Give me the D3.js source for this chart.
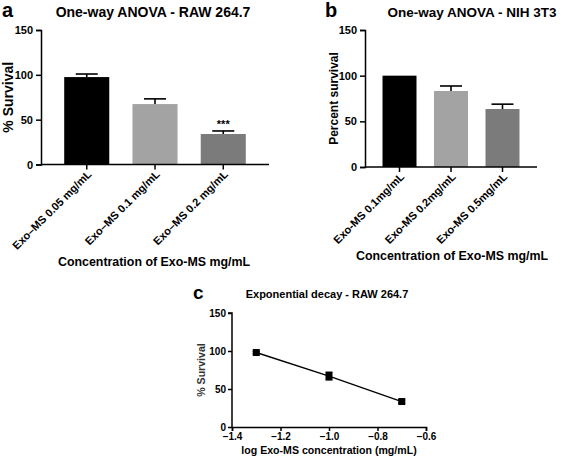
<!DOCTYPE html>
<html><head><meta charset="utf-8">
<script src="https://cdn.jsdelivr.net/npm/d3@7"></script>
<style>
body{margin:0;background:#fff;}
svg{display:block;font-family:"Liberation Sans",Arial,sans-serif;font-weight:bold;}
.axis path,.axis line{stroke:#000;stroke-width:1.5px;}
.axis text{fill:#000;font-weight:bold;}
</style></head>
<body>
<svg id="chart" width="567" height="457"></svg>
<script>
// Panel a
const catsA = ["Exo–MS 0.05 mg/mL","Exo–MS 0.1 mg/mL","Exo–MS 0.2 mg/mL"];
const valsA = [97.5, 67.4, 34];
const errA = [3.4, 5.8, 3.4];
const colorsA = ["#000000","#a3a3a3","#7b7b7b"];
// Panel b
const catsB = ["Exo-MS 0.1mg/mL","Exo-MS 0.2mg/mL","Exo-MS 0.5mg/mL"];
const valsB = [100, 83.2, 63.5];
const errB = [0, 5.5, 5.3];
const colorsB = ["#000000","#a3a3a3","#7b7b7b"];
// Panel c
const logConc = [-1.3, -1.0, -0.7];
const survC = [98, 67, 33.5];
const errC = [1.5, 5, 2];
const yTicks = [0, 50, 100, 150];
const xTicksC = [-1.4, -1.2, -1.0, -0.8, -0.6];

const svg = d3.select("#chart");

function barPanel(o){
  const g = svg.append("g");
  const x = d3.scaleBand().domain(o.cats).range([o.x0, o.x1]).paddingInner(0.34).paddingOuter(0.34);
  const y = d3.scaleLinear().domain([0,150]).range([o.y0, o.y1]);
  g.selectAll("rect.bar").data(o.vals).enter().append("rect")
    .attr("x",(d,i)=>x(o.cats[i])).attr("width",x.bandwidth())
    .attr("y",d=>y(d)).attr("height",d=>y(0)-y(d))
    .attr("fill",(d,i)=>o.colors[i]);
  o.vals.forEach((v,i)=>{
    if(!o.errs[i]) return;
    const cx = x(o.cats[i]) + x.bandwidth()/2;
    g.append("line").attr("x1",cx).attr("x2",cx).attr("y1",y(v)).attr("y2",y(v+o.errs[i])).attr("stroke","#000").attr("stroke-width",1.6);
    g.append("line").attr("x1",cx-11).attr("x2",cx+11).attr("y1",y(v+o.errs[i])).attr("y2",y(v+o.errs[i])).attr("stroke","#000").attr("stroke-width",1.6);
  });
  const ya = g.append("g").attr("class","axis").attr("transform",`translate(${o.x0},0)`)
    .call(d3.axisLeft(y).tickValues(yTicks).tickSize(5).tickPadding(3));
  ya.selectAll("text").style("font-size","11px");
  const xa = g.append("g").attr("class","axis").attr("transform",`translate(0,${o.y0})`)
    .call(d3.axisBottom(x).tickSize(5).tickSizeOuter(0));
  xa.select(".domain").attr("d",`M${o.x0},0H${o.x1}`);
  xa.selectAll("text").style("font-size","11px").attr("text-anchor","end")
    .attr("transform","translate(0,5) rotate(-45)").attr("dy","0.7em").attr("y",0).attr("x",0);
  g.append("text").attr("transform",`translate(${o.ylx},${(o.y0+o.y1)/2}) rotate(-90)`)
    .attr("text-anchor","middle").style("font-size",o.ylfs+"px").text(o.ylabel);
  g.append("text").attr("x",o.xlx).attr("y",o.xly).attr("text-anchor","middle")
    .style("font-size","12.4px").text("Concentration of Exo-MS mg/mL");
  g.append("text").attr("x",o.tx).attr("y",17).attr("text-anchor","middle").style("font-size",o.tfs+"px").text(o.title);
  g.append("text").attr("x",o.lx).attr("y",17).style("font-size","20px").text(o.letter);
  return {x,y,g};
}

const A = barPanel({cats:catsA, vals:valsA, errs:errA, colors:colorsA, x0:41, x1:269, y0:164.5, y1:30,
  ylabel:"% Survival", ylx:13, ylfs:14, xlx:154, xly:266, title:"One-way ANOVA - RAW 264.7", tx:153, tfs:14, letter:"a", lx:2});
A.g.append("text").attr("x",A.x(catsA[2])+A.x.bandwidth()/2).attr("y",A.y(valsA[2]+errA[2])-3)
  .attr("text-anchor","middle").style("font-size","11px").text("***");

barPanel({cats:catsB, vals:valsB, errs:errB, colors:colorsB, x0:365, x1:537, y0:167, y1:30,
  ylabel:"Percent survival", ylx:338, ylfs:12, xlx:452, xly:260, title:"One-way ANOVA - NIH 3T3", tx:472, tfs:13.5, letter:"b", lx:325});

// Panel c
{
  const g = svg.append("g");
  const x = d3.scaleLinear().domain([-1.4,-0.6]).range([232,426]);
  const y = d3.scaleLinear().domain([0,150]).range([427,313]);
  const ya = g.append("g").attr("class","axis").attr("transform","translate(232,0)")
    .call(d3.axisLeft(y).tickValues(yTicks).tickSize(4).tickPadding(2));
  ya.selectAll("text").style("font-size","10px");
  const xa = g.append("g").attr("class","axis").attr("transform","translate(0,427)")
    .call(d3.axisBottom(x).tickValues(xTicksC).tickSize(4).tickPadding(2).tickFormat(d3.format(".1f")));
  xa.selectAll("text").style("font-size","10px");
  ya.select(".domain").attr("d","M0,427V313H-4");
  const line = d3.line().x((d,i)=>x(logConc[i])).y(d=>y(d));
  g.append("path").datum(survC).attr("d",line).attr("fill","none").attr("stroke","#000").attr("stroke-width",1.4);
  survC.forEach((v,i)=>{
    const cx = x(logConc[i]);
    g.append("line").attr("x1",cx).attr("x2",cx).attr("y1",y(v-errC[i])).attr("y2",y(v+errC[i])).attr("stroke","#000").attr("stroke-width",1.5);
    [v-errC[i], v+errC[i]].forEach(e=>g.append("line").attr("x1",cx-3.5).attr("x2",cx+3.5).attr("y1",y(e)).attr("y2",y(e)).attr("stroke","#000").attr("stroke-width",1.5));
    g.append("rect").attr("x",cx-3.5).attr("y",y(v)-3.5).attr("width",7).attr("height",7).attr("fill","#000");
  });
  g.append("text").attr("transform",`translate(205,${(427+313)/2}) rotate(-90)`).attr("text-anchor","middle")
    .style("font-size","10.6px").attr("fill","#333").text("% Survival");
  g.append("text").attr("x",329).attr("y",454).attr("text-anchor","middle").style("font-size","10.6px").text("log Exo-MS concentration (mg/mL)");
  g.append("text").attr("x",327).attr("y",298).attr("text-anchor","middle").style("font-size","11px").text("Exponential decay - RAW 264.7");
  g.append("text").attr("x",193).attr("y",299).style("font-size","19px").text("c");
}
</script>
</body></html>
